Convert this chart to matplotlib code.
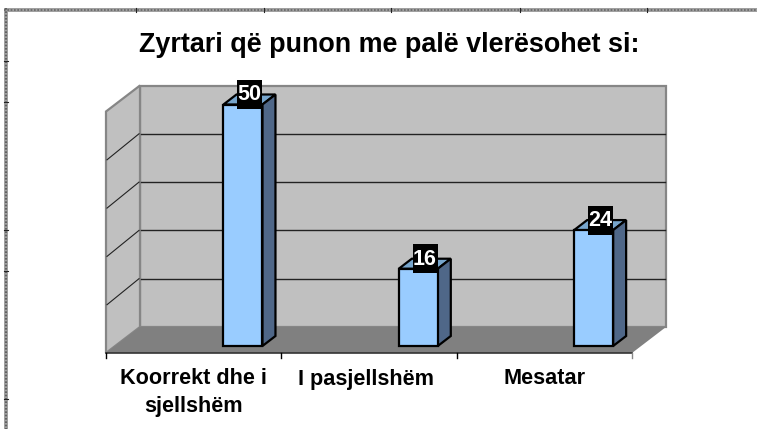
import numpy as np
import matplotlib
matplotlib.use('Agg')
import matplotlib.pyplot as plt
from matplotlib.patches import Polygon, Rectangle

categories = ['Koorrekt dhe i\nsjellshëm', 'I pasjellshëm', 'Mesatar']
values = [50, 16, 24]
grid_values = [10, 20, 30, 40, 50]
title = 'Zyrtari që punon me palë vlerësohet si:'

W, H = 757, 429
plt.rcParams['font.family'] = ['Liberation Sans', 'DejaVu Sans']

fig = plt.figure(figsize=(W/100, H/100), dpi=100)
ax = fig.add_axes([0, 0, 1, 1])
ax.set_xlim(0, W)
ax.set_ylim(H, 0)
ax.axis('off')

# pixel layout of the fake 3d box
x0, x1 = 106, 632      # front floor edge
y0 = 353
dx, dy = 34, -26       # depth of the box
per_unit = 4.83        # pixels per value unit
bar_base = 346
bar_w = 39
bar_dx, bar_dy = 13, -10
bar_off = 29.8         # bar left edge, from category centre
n = len(categories)
step = (x1 - x0) / n
WALL, FLOOR, EDGE = '#c0c0c0', '#808080', '#868686'

def poly(pts, fc, ec='none', lw=0, z=1):
    ax.add_patch(Polygon(pts, closed=True, fc=fc, ec=ec, lw=lw, zorder=z, joinstyle='miter'))

# walls and floor
top = y0 + dy - max(grid_values) * per_unit
poly([(x0+dx, y0+dy), (x1+dx, y0+dy), (x1+dx, top), (x0+dx, top)], WALL, EDGE, 1.6)
poly([(x0, y0), (x0+dx, y0+dy), (x0+dx, top), (x0, top-dy)], WALL, EDGE, 1.6)
poly([(x0, y0), (x1, y0), (x1+dx, y0+dy), (x0+dx, y0+dy)], FLOOR)

for g in grid_values[:-1]:
    y = y0 + dy - g * per_unit
    ax.plot([x0+1, x0+dx-1], [y-dy, y], color='#222222', lw=.8, zorder=2)
    ax.plot([x0+dx+1, x1+dx-1], [y, y], color='#222222', lw=1, zorder=2)

# floor front edge and ticks
ax.plot([x0, x1], [y0, y0], color='#333333', lw=1.2, zorder=3)
for i in range(n + 1):
    c = 'black' if i < n else EDGE
    ax.plot([x0 + i*step]*2, [y0, y0+5], color=c, lw=1, zorder=3)

# bars
label_nudge = [0, -3, 0]
for i, (v, cat) in enumerate(zip(values, categories)):
    cx = x0 + (i + .5) * step
    xl = cx + bar_off
    xr = xl + bar_w
    yt = bar_base - v * per_unit
    poly([(xl, yt), (xr, yt), (xr+bar_dx, yt+bar_dy), (xl+bar_dx, yt+bar_dy)], '#77a5cc', 'black', 1.6, 4)
    poly([(xr, yt), (xr+bar_dx, yt+bar_dy), (xr+bar_dx, bar_base+bar_dy), (xr, bar_base)], '#4f6788', 'black', 1.6, 4)
    ax.add_patch(Rectangle((xl, yt), bar_w, bar_base-yt, fc='#99ccff', ec='black', lw=1.6, zorder=5))
    # value label, black box
    lx = xl + bar_w/2 + 6.7
    ly = yt - 10
    ax.add_patch(Rectangle((lx-12.5, ly-14.5), 25, 29, fc='black', ec='none', zorder=6))
    ax.text(lx, ly + .5, str(v), color='white', fontsize=15.5, fontweight='bold',
            ha='center', va='center', zorder=7)
    ax.text(cx + label_nudge[i], 368.5, cat, ha='center', va='top', fontsize=15.6, fontweight='bold',
            linespacing=1.42, color='black', zorder=7)

ax.text(389, 44.5, title, ha='center', va='center', fontsize=19.4, fontweight='bold', color='black')

# sheet border, hatched grey, with ruler ticks
ax.add_patch(Rectangle((4, 8), W-4, 3.5, fc='#a0a0a0', ec='none', zorder=8))
ax.add_patch(Rectangle((4, 8), 3.5, H-8, fc='#a0a0a0', ec='none', zorder=8))
ax.plot([4, W], [9.7, 9.7], color='#666666', lw=1.2, ls=(0, (1, 1)), zorder=8)
ax.plot([5.7, 5.7], [8, H], color='#555555', lw=1.2, ls=(0, (1, 1)), zorder=8)
for x in [135.5, 263.5, 391, 519.5, 647]:
    ax.plot([x, x], [8, 11.5], color='#222222', lw=.8, zorder=9)
for y in [61, 102, 230, 271, 399]:
    ax.plot([4, 7.5], [y, y], color='#222222', lw=.8, zorder=9)

fig.savefig('out.png', dpi=100)
